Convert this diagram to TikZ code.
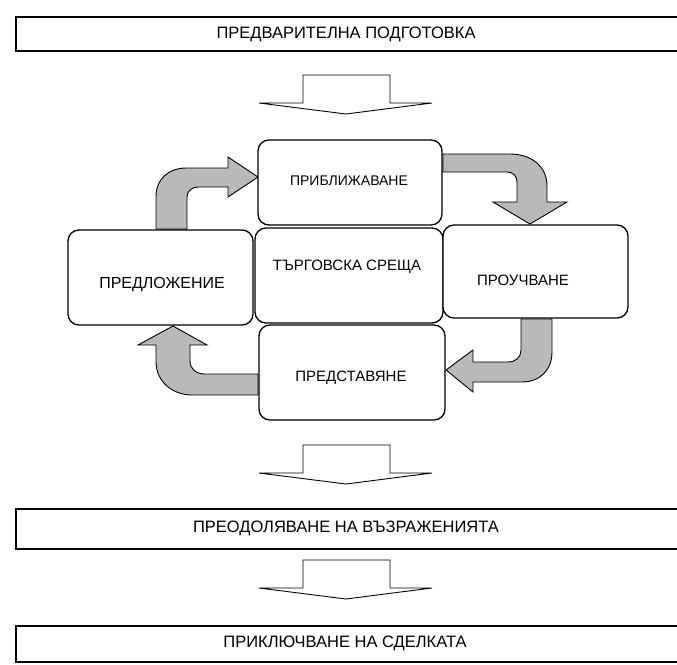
\documentclass[tikz,border=0pt]{standalone}
\usepackage{fontspec}
\setmainfont{Liberation Sans}
\usetikzlibrary{calc}

\tikzset{
  stage/.style={draw, line width=1.3pt, rounded corners=11pt, fill=white, inner sep=0pt},
  stagetext/.style={font=\fontsize{15}{18}\selectfont},
  bannerline/.style={line width=1.4pt},
  bannertext/.style={font=\fontsize{16.5}{20}\selectfont},
  cyclearrow/.style={draw, line width=0.9pt, fill=gray!55, line join=miter},
  blockdown/.style={draw, line width=0.9pt, fill=white}
}

\begin{document}
\begin{tikzpicture}[x=1pt, y=-1pt]
	\useasboundingbox (0,0) rectangle (677,664);

	% banners, open to the right
	\draw[bannerline] (677,17) -- (16,17) -- (16,51) -- (677,51);
	\draw[bannerline] (677,509) -- (16,509) -- (16,549) -- (677,549);
	\draw[bannerline] (677,626) -- (16,626) -- (16,662) -- (677,662);
	\node[bannertext] (prep) at (346,34) {ПРЕДВАРИТЕЛНА ПОДГОТОВКА};
	\node[bannertext] (objections) at (346,528) {ПРЕОДОЛЯВАНЕ НА ВЪЗРАЖЕНИЯТА};
	\node[bannertext] (closing) at (345,643) {ПРИКЛЮЧВАНЕ НА СДЕЛКАТА};

	% block arrows between the stages
	\foreach \y in {75,445,560} {
		\draw[blockdown] (303,\y) -- (390,\y) -- (390,{\y+28}) -- (432,{\y+28}) -- (346,{\y+39}) -- (259,{\y+28}) -- (303,{\y+28}) -- cycle;
	}

	% curved arrows of the cycle
	\draw[cyclearrow] (156,229) -- (156,196) .. controls (156,180) and (168,168) .. (186,168) -- (228,168) -- (228,157) -- (258,177) -- (228,197) -- (228,187) -- (198,187) .. controls (192,187) and (187,191) .. (187,197) -- (187,229) -- cycle;
	\draw[cyclearrow] (443,154) -- (510,154) .. controls (531,154) and (547,166) .. (547,186) -- (547,202) -- (567,202) -- (530,224) -- (493,202) -- (517,202) -- (517,182) .. controls (517,176) and (513,172) .. (507,172) -- (443,172) -- cycle;
	\draw[cyclearrow] (521,319) -- (552,319) -- (552,352) .. controls (552,370) and (540,382) .. (522,382) -- (473,382) -- (473,392) -- (446,370) -- (473,350) -- (473,362) -- (508,362) .. controls (516,362) and (521,357) .. (521,350) -- cycle;
	\draw[cyclearrow] (258,374) -- (205,374) .. controls (196,374) and (190,369) .. (190,361) -- (190,345) -- (207,345) -- (173,326) -- (138,345) -- (156,345) -- (156,362) .. controls (156,381) and (172,395) .. (192,395) -- (258,395) -- cycle;

	% the five stage boxes
	\node[stage, minimum width=184, minimum height=85] (approach) at (350,182.5) {};
	\node[stage, minimum width=188, minimum height=95] (meeting) at (349,275.5) {};
	\node[stage, minimum width=185, minimum height=95] (offer) at (160.5,277.5) {};
	\node[stage, minimum width=185, minimum height=93] (study) at (535.5,271.5) {};
	\node[stage, minimum width=186, minimum height=95] (present) at (352,372.5) {};

	\node[stagetext, font=\fontsize{14}{17}\selectfont] (approachtext) at (349,181) {ПРИБЛИЖАВАНЕ};
	\node[stagetext] (meetingtext) at (347,267) {ТЪРГОВСКА СРЕЩА};
	\node[stagetext, font=\fontsize{16}{19}\selectfont] (offertext) at (162,285) {ПРЕДЛОЖЕНИЕ};
	\node[stagetext] (studytext) at (523,280) {ПРОУЧВАНЕ};
	\node[stagetext] (presenttext) at (351,378) {ПРЕДСТАВЯНЕ};

\end{tikzpicture}
\end{document}
